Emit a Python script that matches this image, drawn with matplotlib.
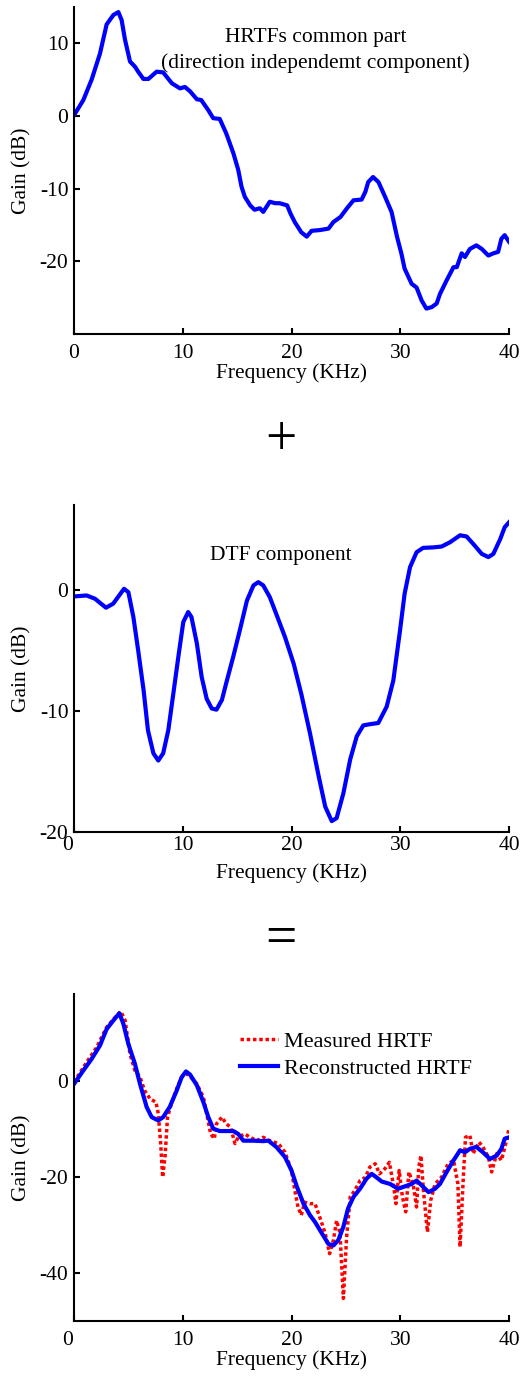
import numpy as np
import matplotlib
matplotlib.use('Agg')
import matplotlib.pyplot as plt
from matplotlib.transforms import ScaledTranslation

plt.rcParams['font.family'] = ['Liberation Serif', 'DejaVu Serif']
plt.rcParams['font.size'] = 15
plt.rcParams['axes.unicode_minus'] = False

# --- HRTF common part (direction independent component)
COMMON_F = [0, 0.86, 1.62, 2.39, 3.0, 3.62, 4.08, 4.38, 4.69, 5.15, 5.6, 5.9, 6.38, 6.84, 7.6, 8.2,
            9.0, 9.75, 10.2, 10.67, 11.3, 11.7, 12.35, 12.8, 13.4, 14.0, 14.65, 15.1, 15.4, 15.7,
            16.2, 16.6, 17.1, 17.4, 18.0, 18.5, 18.9, 19.6, 19.9, 20.3, 20.9, 21.4, 21.85, 22.6,
            23.4, 23.85, 24.5, 25.1, 25.7, 26.45, 26.8, 27.05, 27.5, 28.0, 28.6, 29.2, 29.7, 30.1,
            30.4, 31.05, 31.5, 31.97, 32.4, 32.9, 33.35, 33.65, 34.27, 34.9, 35.2, 35.65, 35.95,
            36.4, 37.0, 37.5, 38.1, 38.56, 39.0, 39.3, 39.6, 40.0]
COMMON_G = [0.1, 2.2, 5.0, 8.6, 12.6, 13.9, 14.3, 13.2, 10.5, 7.5, 6.8, 6.1, 5.1, 5.1, 6.1, 6.0,
            4.5, 3.8, 4.0, 3.4, 2.3, 2.2, 0.8, -0.3, -0.4, -2.4, -5.1, -7.4, -9.7, -11.1,
            -12.3, -12.9, -12.7, -13.2, -11.8, -12.0, -12.0, -12.3, -13.4, -14.6, -16.0, -16.6, -15.8, -15.7,
            -15.5, -14.6, -13.9, -12.7, -11.6, -11.5, -10.4, -9.1, -8.4, -9.1, -11.1, -13.2, -16.6, -18.9,
            -21.0, -23.1, -23.6, -25.4, -26.5, -26.3, -25.8, -24.5, -22.6, -20.8, -20.8, -18.9, -19.4,
            -18.3, -17.8, -18.3, -19.2, -18.9, -18.7, -16.9, -16.4, -17.3]

# --- DTF component
DTF_F = [0, 1.16, 1.93, 2.94, 3.6, 4.6, 5.0, 5.46, 5.9, 6.4, 6.8, 7.3, 7.75, 8.2, 8.67, 9.13, 9.6,
         10.05, 10.5, 10.8, 11.3, 11.74, 12.2, 12.66, 13.1, 13.6, 14.0, 14.65, 15.26, 15.9, 16.5,
         16.95, 17.4, 18.0, 18.6, 19.4, 20.2, 20.9, 21.7, 22.5, 23.1, 23.7, 24.15, 24.77, 25.4,
         26.0, 26.6, 27.2, 27.98, 28.75, 29.36, 29.98, 30.4, 30.9, 31.5, 32.1, 33.04, 33.8, 34.57,
         35.5, 36.1, 36.7, 37.5, 38.1, 38.56, 39.2, 39.6, 40.0]
DTF_G = [-0.55, -0.47, -0.74, -1.48, -1.15, 0.08, -0.2, -2.25, -5.0, -8.3, -11.6, -13.5, -14.1, -13.5,
         -11.6, -8.6, -5.5, -2.66, -1.84, -2.25, -4.44, -7.2, -9.0, -9.8, -9.9, -9.1, -7.7, -5.5, -3.3,
         -0.9, 0.36, 0.63, 0.36, -0.6, -2.0, -3.9, -6.1, -8.6, -11.85, -15.4, -17.9, -19.1, -18.85,
         -16.8, -14.0, -12.1, -11.2, -11.1, -11.0, -9.65, -7.5, -3.35, -0.33, 1.87, 3.1, 3.46, 3.5,
         3.57, 3.92, 4.5, 4.4, 3.8, 2.96, 2.7, 2.96, 4.2, 5.16, 5.57]

# --- measured HRTF
MEAS_F = [0, 1.16, 2.08, 3.0, 3.77, 4.3, 4.7, 5.15, 5.6, 6.07, 6.5, 6.99, 7.54, 7.75, 7.97, 8.15, 8.37,
          8.6, 9.0, 9.44, 9.9, 10.36, 10.8, 11.3, 11.9, 12.2, 12.57, 12.9, 13.1, 13.6, 14.0, 14.4, 14.8,
          15.1, 15.7, 16.2, 16.8, 17.4, 18.0, 18.8, 19.4, 20.0, 20.3, 20.6, 20.9, 21.2, 21.7, 22.16,
          22.6, 23.1, 23.5, 23.85, 24.15, 24.46, 24.77, 25.07, 25.4, 25.84, 26.3, 26.8, 27.2, 27.7,
          28.1, 28.6, 29.0, 29.4, 29.6, 29.9, 30.2, 30.5, 30.8, 31.2, 31.5, 31.7, 31.9, 32.13, 32.5,
          32.8, 33.2, 33.8, 34.4, 34.9, 35.3, 35.5, 35.8, 36.0, 36.4, 36.7, 37.24, 37.6, 38.1, 38.4,
          38.87, 39.3, 39.7, 40.0]
MEAS_G = [-0.35, 3.8, 6.9, 11.1, 13.1, 14.4, 12.5, 5.5, 2.1, 0.7, -2.1, -3.8, -4.5, -6.9, -13.1, -20.1,
          -15.9, -7.6, -4.5, -1.7, 0.7, 1.4, 0.55, -0.7, -3.5, -6.9, -11.1, -12.1, -9.0, -7.6, -9.0, -9.7,
          -13.1, -11.8, -11.1, -11.8, -12.5, -11.8, -12.5, -13.1, -14.9, -18.7, -22.8, -26.3, -28.0, -25.3,
          -25.6, -25.6, -28.4, -31.8, -36.0, -33.2, -29.1, -31.8, -45.3, -32.5, -24.2, -22.8, -20.8, -20.1,
          -18.0, -17.3, -19.4, -18.3, -17.0, -22.1, -25.6, -18.7, -24.2, -27.3, -19.0, -21.8, -26.3, -18.0,
          -15.6, -22.8, -31.5, -24.9, -21.5, -20.1, -17.3, -16.6, -21.5, -34.6, -20.1, -11.8, -11.4, -15.2,
          -12.8, -13.8, -15.9, -19.0, -15.2, -16.6, -13.1, -10.0]

# --- reconstructed HRTF
RECON_F = [0, 0.86, 1.62, 2.39, 3.0, 3.62, 4.17, 4.54, 5.0, 5.6, 6.07, 6.68, 7.14, 7.75, 8.2, 8.8, 9.44,
           9.9, 10.3, 10.67, 11.3, 11.9, 12.35, 12.8, 13.4, 14.0, 14.65, 15.1, 15.57, 16.5, 17.4, 17.87,
           18.6, 19.4, 20.0, 20.5, 21.1, 21.7, 22.16, 22.8, 23.4, 23.85, 24.3, 24.77, 25.2, 25.7, 26.3,
           26.9, 27.37, 27.8, 28.3, 29.06, 29.8, 30.3, 31.05, 31.5, 31.97, 32.6, 33.2, 33.65, 34.27,
           34.9, 35.5, 35.95, 36.4, 37.0, 37.6, 38.25, 38.87, 39.3, 39.6, 40.0]
RECON_G = [-0.7, 2.1, 4.5, 7.3, 10.7, 12.5, 14.0, 11.8, 7.6, 3.5, -0.7, -5.5, -7.6, -8.3, -7.6, -5.5, -2.1,
           0.7, 1.9, 1.25, -1.0, -4.5, -7.6, -10.0, -10.5, -10.5, -10.5, -11.1, -12.5, -12.5, -12.6, -12.5,
           -13.8, -15.9, -18.7, -22.1, -25.6, -28.0, -29.4, -31.8, -34.0, -34.3, -33.2, -30.4, -26.6, -24.2,
           -22.5, -20.4, -19.4, -20.1, -21.0, -21.5, -22.5, -22.1, -21.5, -20.8, -21.8, -23.2, -22.5, -21.5,
           -19.0, -16.6, -14.5, -14.9, -14.2, -13.8, -14.9, -16.3, -15.6, -14.2, -12.1, -11.8]

XTICKS = [0, 10, 20, 30, 40]

W, H = 524, 1378
fig = plt.figure(figsize=(W / 100, H / 100), dpi=100)

AX_L, AX_W = 74, 435
AX_H = 327


def make_ax(bottom_px, ylim, yticks, xpad):
    ax = fig.add_axes([AX_L / W, (H - bottom_px) / H, AX_W / W, AX_H / H])
    ax.set_xlim(0, 40)
    ax.set_ylim(*ylim)
    ax.set_xticks(XTICKS)
    ax.set_yticks(yticks)
    for s in ['top', 'right']:
        ax.spines[s].set_visible(False)
    for s in ['left', 'bottom']:
        ax.spines[s].set_linewidth(1.5)
    ax.tick_params(direction='in', length=4, width=1.5, labelsize=15.5)
    ax.tick_params(axis='x', pad=xpad)
    ax.tick_params(axis='y', pad=4)
    return ax


def label_ax(ax, top_px, bottom_px, xlab_off):
    fig.text(22 / W, 1 - (top_px + bottom_px) / 2 / H, 'Gain (dB)', rotation=90,
             ha='center', va='center', fontsize=15.5)
    fig.text((AX_L + AX_W / 2) / W, 1 - (bottom_px + xlab_off) / H, 'Frequency (KHz)',
             ha='center', va='center', fontsize=15.5)


# top panel
ax1 = make_ax(334, (-30, 15), [-20, -10, 0, 10], 7)
ax1.plot(COMMON_F, COMMON_G, color='#0000ff', lw=3)
ax1.text(22.2, 10.8, 'HRTFs common part', ha='center', va='center', fontsize=15.5)
ax1.text(22.2, 7.3, '(direction independemt component)', ha='center', va='center', fontsize=15.5)
label_ax(ax1, 7, 334, 39)

fig.text(281 / W, 1 - 441 / H, '+', ha='center', va='center', fontsize=40)

# middle panel
ax2 = make_ax(832, (-20, 7), [-20, -10, 0], 3)
ax2.plot(DTF_F, DTF_G, color='#0000ff', lw=3)
ax2.text(19.0, 2.85, 'DTF component', ha='center', va='center', fontsize=15.5)
label_ax(ax2, 505, 832, 41)

fig.text(281 / W, 1 - 940 / H, '=', ha='center', va='center', fontsize=40)

# bottom panel
ax3 = make_ax(1321, (-50, 18), [-40, -20, 0], 7)
ax3.plot(MEAS_F, MEAS_G, color='#ff0000', lw=2.5, ls=(0, (1, 0.8)), label='Measured HRTF')
ax3.plot(RECON_F, RECON_G, color='#0000ff', lw=3, label='Reconstructed HRTF')
ax3.legend(loc='upper left', bbox_to_anchor=((240 - AX_L) / AX_W, 1 - (1031 - 994) / AX_H),
           frameon=False, fontsize=16, handlelength=1.7, handletextpad=0.3,
           labelspacing=0.3, borderaxespad=0, borderpad=0)
label_ax(ax3, 994, 1321, 39)

# first x tick label sits a bit to the left in the lower two panels
for ax in (ax2, ax3):
    lab = ax.get_xticklabels()[0]
    lab.set_transform(lab.get_transform() + ScaledTranslation(-6 / 100, 0, fig.dpi_scale_trans))

fig.savefig('out.png', dpi=100)
